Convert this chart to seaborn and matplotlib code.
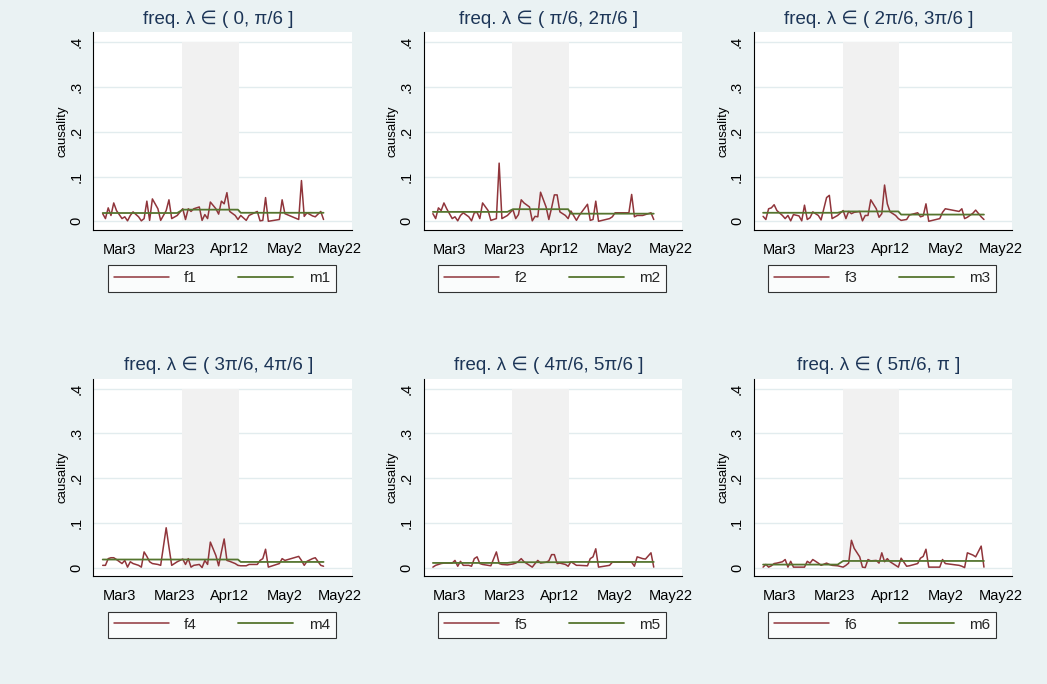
import pandas as pd
import matplotlib
matplotlib.use('Agg')
import matplotlib.pyplot as plt
import seaborn as sns

# observation days, counted from 3 March 2020
day_offset = [-6, -5, -4, -3, -2, -1, 1, 2, 3, 4, 5, 7, 8, 9, 10, 11, 12, 14, 15, 17,
              18, 19, 21, 23, 24, 25, 26, 27, 29, 30, 31, 32, 33, 35, 36, 37, 38, 39, 40, 42,
              43, 44, 46, 47, 50, 51, 52, 53, 54, 58, 59, 60, 65, 66, 67, 68, 70, 71, 73, 74]

f1 = [.017, .006, .030, .013, .041, .024, .006, .010, .001, .013, .021, .010, .001, .006, .045, .002, .050, .028, .002, .024,
      .048, .006, .013, .028, .004, .028, .022, .028, .032, .002, .015, .006, .043, .028, .016, .045, .039, .064, .022, .013,
      .004, .013, .002, .013, .022, .001, .002, .053, .000, .004, .048, .017, .004, .091, .011, .019, .012, .010, .022, .004]
f2 = [.017, .006, .030, .024, .041, .028, .006, .010, .001, .013, .019, .010, .001, .019, .020, .006, .041, .024, .002, .006,
      .130, .006, .013, .026, .006, .015, .048, .041, .032, .001, .011, .010, .065, .032, .004, .030, .059, .059, .021, .013,
      .006, .023, .002, .013, .038, .002, .004, .045, .000, .006, .010, .019, .019, .060, .010, .013, .013, .015, .019, .004]
f3 = [.011, .004, .028, .030, .037, .024, .013, .006, .013, .001, .015, .012, .001, .036, .004, .008, .021, .013, .003, .053,
      .058, .006, .013, .024, .006, .022, .017, .020, .022, .001, .013, .013, .048, .028, .009, .017, .081, .039, .021, .013,
      .006, .002, .004, .014, .019, .010, .012, .039, .000, .006, .020, .028, .022, .028, .006, .009, .018, .025, .010, .004]
f4 = [.005, .005, .020, .022, .022, .018, .009, .016, .001, .013, .009, .005, .001, .035, .025, .013, .009, .007, .005, .089,
      .046, .005, .013, .019, .007, .020, .001, .005, .007, .000, .016, .007, .057, .027, .004, .035, .064, .016, .014, .009,
      .005, .004, .004, .007, .007, .016, .020, .041, .001, .009, .020, .016, .025, .016, .005, .014, .020, .022, .005, .003]
f5 = [.001, .005, .007, .009, .010, .010, .010, .016, .003, .014, .005, .005, .003, .020, .024, .009, .007, .005, .004, .035,
      .009, .007, .006, .008, .010, .014, .020, .013, .005, .001, .009, .016, .010, .012, .015, .029, .029, .009, .010, .007,
      .003, .013, .005, .005, .004, .020, .024, .042, .001, .005, .012, .012, .012, .012, .003, .024, .020, .019, .033, .001]
f6 = [.001, .007, .001, .004, .009, .010, .013, .018, .001, .014, .001, .001, .001, .001, .014, .010, .018, .010, .005, .010,
      .007, .005, .004, .001, .005, .010, .061, .043, .024, .001, .000, .018, .015, .016, .010, .033, .013, .020, .013, .005,
      .001, .021, .003, .004, .009, .021, .025, .041, .001, .001, .018, .009, .005, .003, .000, .033, .028, .024, .048, .001]

# m series are step means: before / inside / after the shaded window
m_before = [.0185, .021, .019, .018, .0104, .0067]
m_inside = [.026, .027, .022, .018, .012, .0148]
m_after = [.019, .017, .015, .0126, .0126, .0148]

shade_days = (22.8, 43.4)

titles = ['freq. λ ∈ ( 0, π/6 ]', 'freq. λ ∈ ( π/6, 2π/6 ]', 'freq. λ ∈ ( 2π/6, 3π/6 ]',
          'freq. λ ∈ ( 3π/6, 4π/6 ]', 'freq. λ ∈ ( 4π/6, 5π/6 ]', 'freq. λ ∈ ( 5π/6, π ]']
tick_days = [0, 20, 40, 60, 80]
tick_labels = ['Mar3', 'Mar23', 'Apr12', 'May2', 'May22']
y_ticks = [0, .1, .2, .3, .4]
y_labels = ['0', '.1', '.2', '.3', '.4']

BG = '#EAF2F3'
F_COLOR = '#90353B'
M_COLOR = '#55752F'
TITLE_COLOR = '#1c3557'

sns.set_theme(style='white')
plt.rcParams['font.family'] = ['Liberation Sans', 'DejaVu Sans']

base = pd.Timestamp('2020-03-03')
dates = base + pd.to_timedelta(day_offset, unit='D')
shade = [base + pd.Timedelta(days=d) for d in shade_days]

fig = plt.figure(figsize=(10.47, 6.84), dpi=100, facecolor=BG)
W, H = 1047, 684
ax_w, ax_h = 258.4, 197.7

for i, f in enumerate([f1, f2, f3, f4, f5, f6]):
    r, c = divmod(i, 3)
    left = 93.3 + 330.2 * c
    top = 32.3 + 346.3 * r
    ax = fig.add_axes([left / W, 1 - (top + ax_h) / H, ax_w / W, ax_h / H])
    ax.set_facecolor('white')

    m = [m_before[i] if d < shade_days[0] else m_inside[i] if d <= shade_days[1] else m_after[i]
         for d in day_offset]
    df = pd.DataFrame({'date': dates, 'f': f, 'm': m})

    ax.fill_between(shade, 0, 0.4, color='#F1F1F1', lw=0, zorder=1)
    sns.lineplot(data=df, x='date', y='f', ax=ax, color=F_COLOR, lw=1.1,
                 label=f'f{i + 1}', zorder=3)
    sns.lineplot(data=df, x='date', y='m', ax=ax, color=M_COLOR, lw=1.3,
                 label=f'm{i + 1}', zorder=4)

    ax.set_xlim(base + pd.Timedelta(days=-9.4), base + pd.Timedelta(days=84.2))
    ax.set_ylim(-0.0195, 0.4225)
    ax.set_xticks([base + pd.Timedelta(days=d) for d in tick_days])
    ax.set_xticklabels(tick_labels)
    ax.set_yticks(y_ticks)
    ax.set_yticklabels(y_labels, rotation=90, va='center')
    ax.yaxis.grid(True, color='#E2ECEE', lw=1.0)
    ax.set_axisbelow(True)

    for s in ['top', 'right']:
        ax.spines[s].set_visible(False)
    for s in ['left', 'bottom']:
        ax.spines[s].set_color('black')
        ax.spines[s].set_linewidth(0.8)
    ax.tick_params(direction='out', length=5, width=0.8, color='black',
                   labelsize=10.5, labelcolor='black', pad=4)
    ax.tick_params(axis='y', pad=2)

    ax.set_xlabel('')
    ax.set_ylabel('causality', fontsize=9.5, color='black')
    ax.yaxis.set_label_coords(-0.095, 0.5)
    ax.set_title(titles[i], fontsize=13.5, color=TITLE_COLOR, pad=6, x=0.485)

    leg = ax.legend(loc='center', bbox_to_anchor=(0.0557, -0.317, 0.8835, 0.144),
                    mode='expand', ncol=2, frameon=True, fancybox=False,
                    edgecolor='black', facecolor='white', fontsize=11,
                    handlelength=3.6, handletextpad=1.0, borderpad=0.4,
                    borderaxespad=0)
    leg.get_frame().set_linewidth(0.8)

fig.savefig('out.png', dpi=100, facecolor=BG)
